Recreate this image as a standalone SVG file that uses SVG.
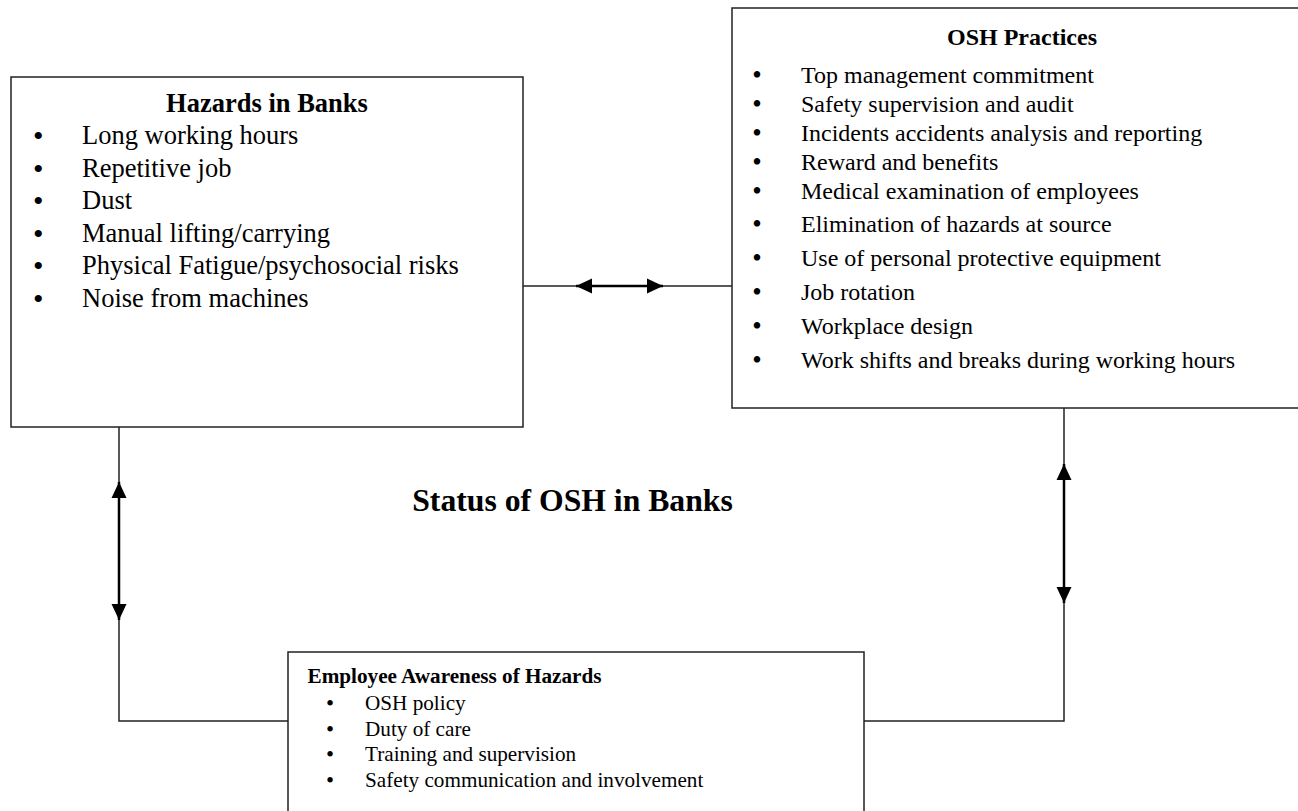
<svg xmlns="http://www.w3.org/2000/svg" width="1298" height="811" viewBox="0 0 1298 811">
<style>
.box{fill:#fff;stroke:#222;stroke-width:1.5}
.t{font-family:"Liberation Serif","Times New Roman",serif;fill:#000}
.b{font-weight:bold}
.l{font-size:26.5px}
.o{font-size:24px}
.e{font-size:21.2px}
.bl{font-size:30px}
.bo{font-size:27px}
.be{font-size:23px}
.ln{fill:none;stroke:#222;stroke-width:1.5}
.arr{fill:none;stroke:#000;stroke-width:2.5;marker-start:url(#ah);marker-end:url(#ah)}
</style>
<defs>
<marker id="ah" markerUnits="userSpaceOnUse" markerWidth="16" markerHeight="16" viewBox="0 0 16 16" refX="16" refY="8" orient="auto-start-reverse">
<path d="M0,0.5 L16,8 L0,15.5 Z" fill="#000"/>
</marker>
</defs>
<rect width="1298" height="811" fill="#fff"/>
<g id="connectors">
<line class="ln" x1="523" y1="286" x2="732" y2="286"/>
<line class="arr" x1="576" y1="286" x2="663" y2="286"/>
<polyline class="ln" points="119,427 119,721 288,721"/>
<line class="arr" x1="119" y1="482" x2="119" y2="620"/>
<polyline class="ln" points="1064,408 1064,721 864,721"/>
<line class="arr" x1="1064" y1="464" x2="1064" y2="603"/>
</g>
<g id="hazards">
<rect class="box" x="11" y="77" width="512" height="350"/>
<text class="t b l" x="267" y="112" text-anchor="middle">Hazards in Banks</text>
<g class="t l">
<text y="144"><tspan class="bl" x="33" dy="2">•</tspan><tspan x="82" dy="-2">Long working hours</tspan></text>
<text y="176.5"><tspan class="bl" x="33" dy="2">•</tspan><tspan x="82" dy="-2">Repetitive job</tspan></text>
<text y="209"><tspan class="bl" x="33" dy="2">•</tspan><tspan x="82" dy="-2">Dust</tspan></text>
<text y="241.5"><tspan class="bl" x="33" dy="2">•</tspan><tspan x="82" dy="-2">Manual lifting/carrying</tspan></text>
<text y="274"><tspan class="bl" x="33" dy="2">•</tspan><tspan x="82" dy="-2">Physical Fatigue/psychosocial risks</tspan></text>
<text y="306.5"><tspan class="bl" x="33" dy="2">•</tspan><tspan x="82" dy="-2">Noise from machines</tspan></text>
</g>
</g>
<g id="osh-practices">
<rect class="box" x="732" y="8" width="580" height="400"/>
<text class="t b o" x="1022" y="45" text-anchor="middle">OSH Practices</text>
<g class="t o">
<text y="83"><tspan class="bo" x="752.3" dy="1">•</tspan><tspan x="801" dy="-1">Top management commitment</tspan></text>
<text y="112"><tspan class="bo" x="752.3" dy="1">•</tspan><tspan x="801" dy="-1">Safety supervision and audit</tspan></text>
<text y="141"><tspan class="bo" x="752.3" dy="1">•</tspan><tspan x="801" dy="-1">Incidents accidents analysis and reporting</tspan></text>
<text y="170"><tspan class="bo" x="752.3" dy="1">•</tspan><tspan x="801" dy="-1">Reward and benefits</tspan></text>
<text y="199"><tspan class="bo" x="752.3" dy="1">•</tspan><tspan x="801" dy="-1">Medical examination of employees</tspan></text>
<text y="232"><tspan class="bo" x="752.3" dy="1">•</tspan><tspan x="801" dy="-1">Elimination of hazards at source</tspan></text>
<text y="266"><tspan class="bo" x="752.3" dy="1">•</tspan><tspan x="801" dy="-1">Use of personal protective equipment</tspan></text>
<text y="300"><tspan class="bo" x="752.3" dy="1">•</tspan><tspan x="801" dy="-1">Job rotation</tspan></text>
<text y="334"><tspan class="bo" x="752.3" dy="1">•</tspan><tspan x="801" dy="-1">Workplace design</tspan></text>
<text y="368"><tspan class="bo" x="752.3" dy="1">•</tspan><tspan x="801" dy="-1">Work shifts and breaks during working hours</tspan></text>
</g>
</g>
<g id="employee-awareness">
<rect class="box" x="288" y="652" width="576" height="170"/>
<text class="t b e" x="307.5" y="683">Employee Awareness of Hazards</text>
<g class="t e">
<text y="710"><tspan class="be" x="326" dy="1">•</tspan><tspan x="365" dy="-1">OSH policy</tspan></text>
<text y="735.5"><tspan class="be" x="326" dy="1">•</tspan><tspan x="365" dy="-1">Duty of care</tspan></text>
<text y="761"><tspan class="be" x="326" dy="1">•</tspan><tspan x="365" dy="-1">Training and supervision</tspan></text>
<text y="786.5"><tspan class="be" x="326" dy="1">•</tspan><tspan x="365" dy="-1">Safety communication and involvement</tspan></text>
</g>
</g>
<g id="status-title">
<text class="t b" x="572.5" y="511" font-size="31.7" text-anchor="middle">Status of OSH in Banks</text>
</g>
</svg>
